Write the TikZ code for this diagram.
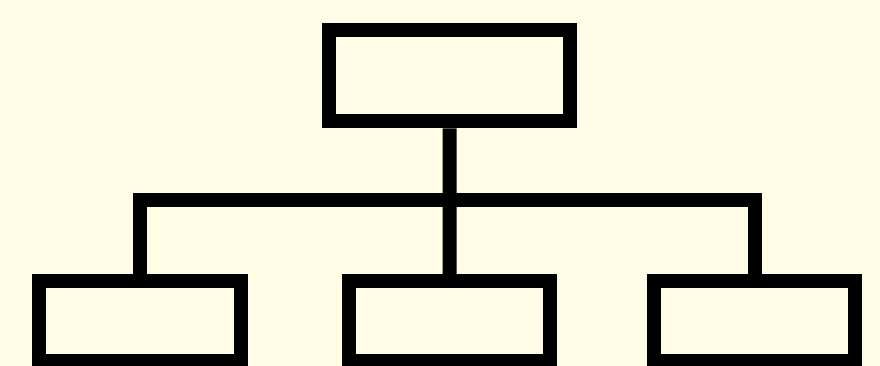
\documentclass[tikz,border=0pt]{standalone}
\usepackage{xcolor}
\usepackage{tikz}
\usetikzlibrary{positioning}
\definecolor{cream}{RGB}{255,253,230}

\begin{document}
\begin{tikzpicture}[x=1pt,y=-1pt,
    unitbox/.style={draw=black,line width=14pt,rectangle,inner sep=0pt},
    topbox/.style={unitbox,minimum width=240.4pt,minimum height=91pt},
    subbox/.style={unitbox,minimum width=201.7pt,minimum height=79.4pt},
    wire/.style={draw=black,line width=14pt}]
  % Background and frame
  \fill[cream] (0,0) rectangle (880,366);
  \useasboundingbox (0,0) rectangle (880,366);
  % Boxes
  \node[topbox] (head) at (449.5,75.8) {};
  \node[subbox] (left)  at (140.2,321) {};
  \node[subbox] (mid)   at (449.6,321) {};
  \node[subbox] (right) at (754.6,321) {};
  % Connectors
  \coordinate (bus) at (449.6,200.3);
  \draw[wire] (head.south) -- (mid.north);
  \draw[wire] (left.north) |- (bus) -| (right.north);
\end{tikzpicture}
\end{document}
